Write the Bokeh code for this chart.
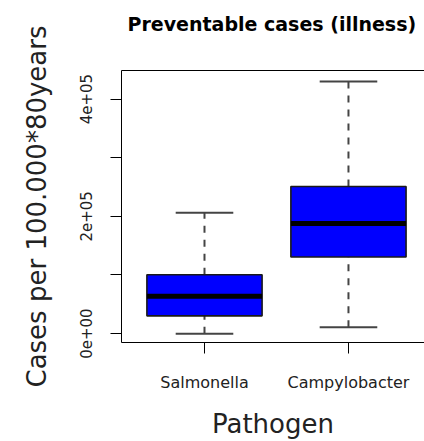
from bokeh.plotting import figure
from bokeh.models import Range1d, FixedTicker, LinearAxis, Title
from bokeh.embed import file_html
from bokeh.resources import INLINE

# ---- data ----
categories = ["Salmonella", "Campylobacter"]
lower_whisker = [0, 10800]
q1 = [30300, 130600]
median = [63900, 187700]
q3 = [100300, 251000]
upper_whisker = [206200, 430000]

y_ticks = [0, 100000, 200000, 300000, 400000]
y_tick_labels = ["0e+00", "", "2e+05", "", "4e+05"]

title_text = "Preventable cases (illness)"
x_label = "Pathogen"
y_label = "Cases per 100.000*80years"

# ---- layout helpers ----
positions = list(range(1, len(categories) + 1))
box_w = 0.8
cap_w = 0.4
FONT = "DejaVu Sans"
WHISK = "#444444"

p = figure(width=424, height=441, output_backend="svg", toolbar_location=None,
           x_range=Range1d(0.4236, 2.528), y_range=Range1d(-15100, 448700),
           min_border_left=121, min_border_right=0, min_border_top=70, min_border_bottom=95,
           background_fill_color="white", border_fill_color="white")
p.outline_line_color = None
p.xgrid.visible = False
p.ygrid.visible = False

# whiskers (dashed)
p.segment(x0=positions, y0=q3, x1=positions, y1=upper_whisker,
          line_color=WHISK, line_width=2, line_dash="7 7")
p.segment(x0=positions, y0=lower_whisker, x1=positions, y1=q1,
          line_color=WHISK, line_width=2, line_dash="7 7")
# caps
p.segment(x0=[x - cap_w / 2 for x in positions], y0=upper_whisker,
          x1=[x + cap_w / 2 for x in positions], y1=upper_whisker,
          line_color=WHISK, line_width=2)
p.segment(x0=[x - cap_w / 2 for x in positions], y0=lower_whisker,
          x1=[x + cap_w / 2 for x in positions], y1=lower_whisker,
          line_color=WHISK, line_width=2)
# boxes
p.vbar(x=positions, width=box_w, bottom=q1, top=q3,
       fill_color="#0000ff", line_color="#1a1a1a", line_width=1.6)
# medians
p.segment(x0=[x - box_w / 2 for x in positions], y0=median,
          x1=[x + box_w / 2 for x in positions], y1=median,
          line_color="black", line_width=5, line_cap="butt")

# x axis
xa = p.xaxis[0]
xa.ticker = FixedTicker(ticks=positions)
xa.major_label_overrides = {pos: cat for pos, cat in zip(positions, categories)}
xa.minor_tick_line_color = None
xa.major_tick_in = 0
xa.major_tick_out = 11
xa.major_label_standoff = 19
xa.major_label_text_font = FONT
xa.major_label_text_font_size = "16px"
xa.major_label_text_color = "#222222"
xa.axis_label = x_label
xa.axis_label_text_font = FONT
xa.axis_label_text_font_size = "26px"
xa.axis_label_text_font_style = "normal"
xa.axis_label_text_color = "#222222"
xa.axis_label_standoff = 14
xa.axis_line_color = "black"

# y axis
ya = p.yaxis[0]
ya.ticker = FixedTicker(ticks=y_ticks)
ya.major_label_overrides = {t: lab for t, lab in zip(y_ticks, y_tick_labels)}
ya.minor_tick_line_color = None
ya.major_tick_in = 0
ya.major_tick_out = 11
ya.major_label_orientation = "vertical"
ya.major_label_standoff = 18
ya.major_label_text_font = FONT
ya.major_label_text_font_size = "15px"
ya.major_label_text_color = "#222222"
ya.axis_label = y_label
ya.axis_label_text_font = FONT
ya.axis_label_text_font_size = "26px"
ya.axis_label_text_font_style = "normal"
ya.axis_label_text_color = "#222222"
ya.axis_label_standoff = 26
ya.axis_line_color = "black"

# top border of the frame (right side is cut off in the reference);
# a blank tiny axis label reserves the gap between frame and title
top = LinearAxis(ticker=FixedTicker(ticks=[]), major_tick_in=0, major_tick_out=0,
                 major_tick_line_color=None, minor_tick_line_color=None,
                 minor_tick_in=0, minor_tick_out=0, major_label_standoff=0,
                 major_label_text_font_size="0px", axis_line_color="black",
                 axis_label=" ", axis_label_text_font_size="1px",
                 axis_label_standoff=32)
p.add_layout(top, "above")

# title (placed outside the top border)
p.add_layout(Title(text=title_text, align="left", offset=6, standoff=0,
                   text_font=FONT, text_font_size="19px", text_font_style="bold",
                   text_color="black"), "above")

open("out.html", "w").write(file_html(p, INLINE))
